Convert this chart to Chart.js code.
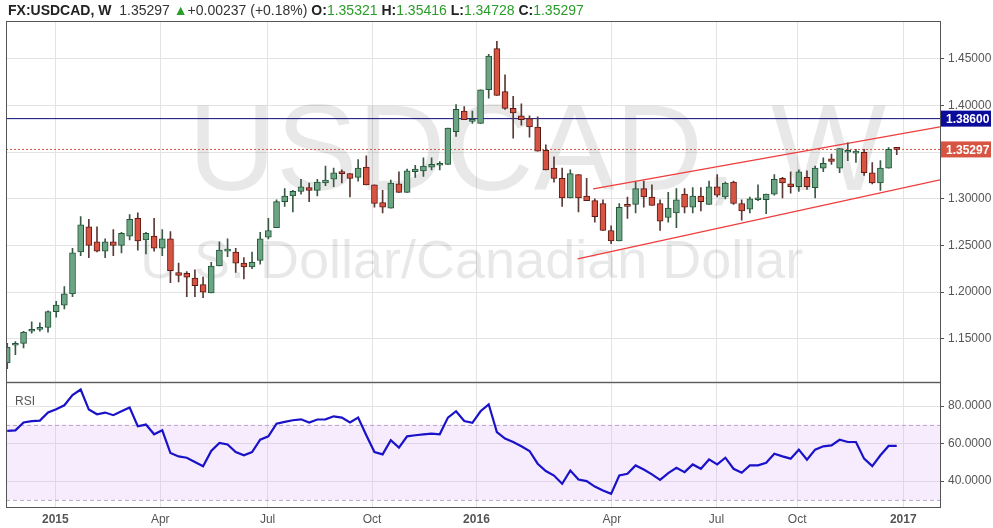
<!DOCTYPE html>
<html>
<head>
<meta charset="utf-8">
<script src="https://cdn.jsdelivr.net/npm/chart.js@4"></script>
<style>
  body { margin: 0; background: #fff; width: 993px; height: 528px; overflow: hidden; font-family: "Liberation Sans", Arial, sans-serif; }
  #hdr { position: absolute; left: 8px; top: 2px; font-size: 14px; color: #333; white-space: nowrap; z-index: 2; }
  #hdr b { color: #222; }
  .g { color: #2a9c2a; }
  #main { position: absolute; left: 0; top: 0; width: 993px; height: 393px; }
  #rsiBox { position: absolute; left: 0; top: 371px; width: 993px; height: 157px; }
</style>
</head>
<body>
<div id="hdr"><b>FX:USDCAD, W</b>&nbsp; 1.35297 <span class="g">&#9650;</span>+0.00237 (+0.18%) <b>O:</b><span class="g">1.35321</span> <b>H:</b><span class="g">1.35416</span> <b>L:</b><span class="g">1.34728</span> <b>C:</b><span class="g">1.35297</span></div>
<div id="main"><canvas id="priceChart"></canvas></div>
<div id="rsiBox"><canvas id="rsiChart"></canvas></div>
<script>
// weekly candles, Nov 2014 - Dec 2016
const opens = [1.124,1.143,1.145,1.158,1.160,1.162,1.179,1.186,1.198,1.243,1.270,1.254,1.244,1.254,1.250,1.260,1.279,1.256,1.260,1.247,
  1.257,1.221,1.220,1.215,1.208,1.199,1.228,1.244,1.243,1.231,1.227,1.234,1.259,1.269,1.297,1.303,1.308,1.312,1.309,1.317,
  1.321,1.328,1.327,1.323,1.334,1.315,1.296,1.290,1.316,1.307,1.329,1.330,1.334,1.336,1.337,1.372,1.394,1.383,1.381,1.417,
  1.461,1.415,1.397,1.389,1.386,1.377,1.352,1.333,1.322,1.301,1.326,1.303,1.298,1.295,1.266,1.255,1.294,1.294,1.311,1.302,
  1.295,1.280,1.285,1.305,1.291,1.303,1.294,1.313,1.302,1.318,1.295,1.289,1.299,1.299,1.305,1.322,1.316,1.313,1.323,1.312,
  1.333,1.343,1.333,1.350,1.349,1.350,1.328,1.317,1.333,1.35321];
const highs = [1.145,1.147,1.158,1.168,1.167,1.180,1.190,1.206,1.247,1.281,1.278,1.270,1.257,1.267,1.264,1.283,1.285,1.264,1.279,1.267,
  1.265,1.231,1.222,1.224,1.216,1.232,1.254,1.257,1.247,1.237,1.243,1.264,1.279,1.299,1.311,1.309,1.321,1.317,1.321,1.335,
  1.333,1.331,1.327,1.342,1.346,1.315,1.309,1.320,1.329,1.332,1.336,1.344,1.344,1.340,1.376,1.401,1.399,1.394,1.417,1.455,
  1.469,1.433,1.410,1.402,1.389,1.388,1.358,1.345,1.333,1.331,1.326,1.322,1.300,1.299,1.271,1.295,1.302,1.318,1.319,1.315,
  1.299,1.307,1.311,1.311,1.312,1.312,1.319,1.326,1.318,1.319,1.299,1.302,1.315,1.305,1.326,1.323,1.329,1.331,1.330,1.335,
  1.344,1.348,1.354,1.360,1.353,1.353,1.339,1.341,1.355,1.35416];
const lows = [1.118,1.133,1.140,1.156,1.158,1.157,1.173,1.182,1.195,1.239,1.237,1.243,1.237,1.239,1.242,1.256,1.245,1.241,1.244,1.239,
  1.210,1.211,1.195,1.195,1.194,1.199,1.228,1.238,1.221,1.214,1.225,1.230,1.257,1.269,1.292,1.286,1.305,1.297,1.303,1.314,
  1.313,1.317,1.302,1.319,1.315,1.291,1.285,1.290,1.307,1.307,1.323,1.324,1.331,1.331,1.337,1.367,1.385,1.381,1.381,1.408,
  1.411,1.396,1.365,1.379,1.366,1.351,1.331,1.318,1.292,1.301,1.286,1.298,1.275,1.266,1.252,1.255,1.279,1.285,1.291,1.293,
  1.266,1.275,1.269,1.285,1.285,1.287,1.294,1.302,1.300,1.294,1.277,1.285,1.298,1.284,1.304,1.301,1.306,1.308,1.310,1.301,
  1.329,1.337,1.328,1.341,1.339,1.325,1.316,1.309,1.333,1.34728];
const closes = [1.141,1.144,1.157,1.160,1.162,1.179,1.186,1.198,1.242,1.272,1.250,1.244,1.254,1.250,1.263,1.278,1.255,1.263,1.247,1.257,
  1.223,1.218,1.216,1.207,1.200,1.228,1.245,1.244,1.231,1.227,1.232,1.257,1.266,1.297,1.303,1.308,1.313,1.309,1.318,1.320,
  1.328,1.327,1.322,1.333,1.315,1.295,1.291,1.317,1.307,1.330,1.332,1.335,1.337,1.336,1.376,1.396,1.385,1.383,1.417,1.453,
  1.411,1.397,1.392,1.385,1.377,1.351,1.331,1.322,1.301,1.327,1.301,1.298,1.281,1.266,1.255,1.291,1.292,1.311,1.302,1.293,
  1.276,1.290,1.299,1.291,1.303,1.297,1.313,1.304,1.317,1.295,1.287,1.300,1.299,1.305,1.321,1.317,1.313,1.329,1.313,1.333,
  1.338,1.340,1.354,1.350,1.351,1.328,1.317,1.333,1.353,1.35297];
const rsi = [66.8,67.1,71.3,72,72.3,76.6,78.4,80.5,85.9,88.9,78.2,75.7,76.6,75.2,77.3,79.3,69.3,70.2,65,67.1,
  55,53.2,52.5,50.2,47.9,56.1,60.4,59.6,55.5,53.8,55.5,62.1,63.9,70.7,71.6,72.5,73,71.3,72.9,73,
  74.6,73.9,71.3,73.9,64.5,55.5,54.3,61.8,57.9,63.9,64.5,65,65.4,65,73.9,77.3,72.1,71.1,77.3,81,
  66.2,62.7,60.9,58.6,56.1,49.3,45.4,43,38.6,45.7,40.9,40,37.1,35,33.2,43,43.9,48.4,46.2,43.6,
  40.7,44.3,47.1,44.8,48.9,46.6,51.6,48.9,52.5,46.6,44.5,48.4,48.4,49.8,54.6,53.2,52,56.8,51.4,56.8,
  58.6,59.1,62.1,60.9,60.9,52,48,53.8,58.8,58.8];

const tickPos = [5.9, 18.75, 31.9, 44.7, 57.5, 74.1, 86.9, 96.8, 109.8];
const tickLabels = ["2015", "Apr", "Jul", "Oct", "2016", "Apr", "Jul", "Oct", "2017"];
const priceTicks = [1.15, 1.20, 1.25, 1.30, 1.35, 1.40, 1.45];
const rsiTicks = [40, 60, 80];

// drawn levels: resistance, last price, channel
const resistance = 1.386;
const lastPrice = 1.35297;
const upperChannel = [[71.8, 1.3107], [114.3, 1.3771]];
const lowerChannel = [[69.9, 1.2356], [114.3, 1.3203]];

const X_MIN = -0.15, X_MAX = 114.3;
const UP = "#6ba583", UP_B = "#225437", DN = "#d75442", DN_B = "#5b1a13";

const idx = closes.map((c, i) => i);
const isUp = idx.map(i => closes[i] >= opens[i]);

function xAxis(showTicks) {
  return {
    type: "linear", min: X_MIN, max: X_MAX, offset: false,
    afterBuildTicks: s => { s.ticks = tickPos.map(v => ({ value: v })); },
    afterFit: s => { s.height = showTicks ? 21 : 0; },
    grid: { color: "#e3e3e3", drawTicks: false, offset: false },
    border: { display: false },
    ticks: {
      display: showTicks, padding: 5, color: "#555",
      callback: (v, i) => tickLabels[i],
      font: c => ({ size: 12, family: "Liberation Sans", weight: /^\d+$/.test(tickLabels[c.index] || "") ? "bold" : "normal" })
    }
  };
}

const frame = {
  id: "frame",
  afterDraw(chart) {
    const { ctx, chartArea: a } = chart;
    ctx.save();
    ctx.strokeStyle = "#555";
    ctx.lineWidth = 1;
    ctx.strokeRect(a.left + 0.5, a.top + 0.5, a.right - a.left, a.bottom - a.top);
    ctx.restore();
  }
};

const watermark = {
  id: "watermark",
  beforeDatasetsDraw(chart) {
    const { ctx } = chart;
    ctx.save();
    ctx.fillStyle = "rgba(0,0,0,0.09)";
    ctx.textAlign = "left";
    ctx.font = "122px 'Liberation Sans'";
    ctx.fillText("USDCAD, W", 188, 190);
    ctx.font = "54px 'Liberation Sans'";
    ctx.fillText("U.S. Dollar/Canadian Dollar", 140, 278);
    ctx.restore();
  }
};

const priceTags = {
  id: "priceTags",
  afterDraw(chart) {
    const { ctx } = chart;
    const y = chart.scales.y;
    [[resistance, "#0c0c9c", "1.38600"], [lastPrice, "#d75442", "1.35297"]].forEach(([v, col, txt]) => {
      const py = y.getPixelForValue(v);
      ctx.save();
      ctx.fillStyle = col;
      ctx.fillRect(941, py - 8, 50, 16);
      ctx.fillStyle = "#fff";
      ctx.font = "bold 12px 'Liberation Sans'";
      ctx.textBaseline = "middle";
      ctx.fillText(txt, 946, py + 1);
      ctx.restore();
    });
  }
};

new Chart(document.getElementById("priceChart"), {
  type: "bar",
  data: {
    datasets: [
      {
        type: "line", data: [{ x: X_MIN, y: resistance }, { x: X_MAX, y: resistance }],
        borderColor: "#0c0c7c", borderWidth: 1, pointRadius: 0, order: 5
      },
      {
        type: "line", data: [{ x: X_MIN, y: lastPrice }, { x: X_MAX, y: lastPrice }],
        borderColor: "#d75442", borderWidth: 1, borderDash: [2, 2], pointRadius: 0, order: 5
      },
      {
        type: "line", data: upperChannel.map(p => ({ x: p[0], y: p[1] })),
        borderColor: "#f03c3c", borderWidth: 1.3, pointRadius: 0, order: 5
      },
      {
        type: "line", data: lowerChannel.map(p => ({ x: p[0], y: p[1] })),
        borderColor: "#f03c3c", borderWidth: 1.3, pointRadius: 0, order: 5
      },
      {
        label: "wick", data: idx.map(i => ({ x: i, y: [lows[i], highs[i]] })),
        backgroundColor: idx.map(i => isUp[i] ? "#3a5a46" : "#5a3a36"),
        barThickness: 1, grouped: false, order: 3
      },
      {
        label: "body", data: idx.map(i => ({ x: i, y: [opens[i], closes[i]] })),
        backgroundColor: idx.map(i => isUp[i] ? UP : DN),
        borderColor: idx.map(i => isUp[i] ? UP_B : DN_B),
        borderWidth: 1, borderSkipped: false, minBarLength: 2,
        barThickness: 6, grouped: false, order: 1
      }
    ]
  },
  options: {
    responsive: true, maintainAspectRatio: false, animation: false,
    layout: { padding: { left: 6, top: 21, right: 0, bottom: 0 } },
    plugins: { legend: { display: false }, tooltip: { enabled: false } },
    scales: {
      x: xAxis(false),
      y: {
        position: "right", min: 1.1038, max: 1.4907,
        afterBuildTicks: s => { s.ticks = priceTicks.map(v => ({ value: v })); },
        afterFit: s => { s.width = 53; },
        grid: { color: "#e3e3e3", tickLength: 4, tickColor: "#555" },
        border: { display: false },
        ticks: { color: "#555", padding: 4, font: { size: 12, family: "Liberation Sans" }, callback: v => v.toFixed(5) }
      }
    }
  },
  plugins: [watermark, frame, priceTags]
});

const rsiBand = {
  id: "rsiBand",
  beforeDatasetsDraw(chart) {
    const { ctx, chartArea: a } = chart;
    const y = chart.scales.y;
    const t = y.getPixelForValue(70), b = y.getPixelForValue(30);
    ctx.save();
    ctx.fillStyle = "rgba(215,170,250,0.22)";
    ctx.fillRect(a.left, t, a.right - a.left, b - t);
    ctx.strokeStyle = "#b9a6c9";
    ctx.setLineDash([4, 3]);
    [t, b].forEach(py => {
      ctx.beginPath(); ctx.moveTo(a.left, py + 0.5); ctx.lineTo(a.right, py + 0.5); ctx.stroke();
    });
    ctx.setLineDash([]);
    ctx.fillStyle = "#555";
    ctx.font = "12px 'Liberation Sans'";
    ctx.fillText("RSI", a.left + 9, a.top + 23);
    ctx.restore();
  }
};

new Chart(document.getElementById("rsiChart"), {
  type: "line",
  data: {
    datasets: [{
      data: idx.map(i => ({ x: i, y: rsi[i] })),
      borderColor: "#1a12c8", borderWidth: 2.2, pointRadius: 0, tension: 0
    }]
  },
  options: {
    responsive: true, maintainAspectRatio: false, animation: false,
    layout: { padding: { left: 6, top: 0, right: 0, bottom: 0 } },
    plugins: { legend: { display: false }, tooltip: { enabled: false } },
    scales: {
      x: xAxis(true),
      y: {
        position: "right", min: 26.2, max: 92.8,
        afterBuildTicks: s => { s.ticks = rsiTicks.map(v => ({ value: v })); },
        afterFit: s => { s.width = 53; },
        grid: { color: "#e3e3e3", tickLength: 4, tickColor: "#555" },
        border: { display: false },
        ticks: { color: "#555", padding: 4, font: { size: 12, family: "Liberation Sans" }, callback: v => v.toFixed(4) }
      }
    }
  },
  plugins: [rsiBand, frame]
});
</script>
</body>
</html>
